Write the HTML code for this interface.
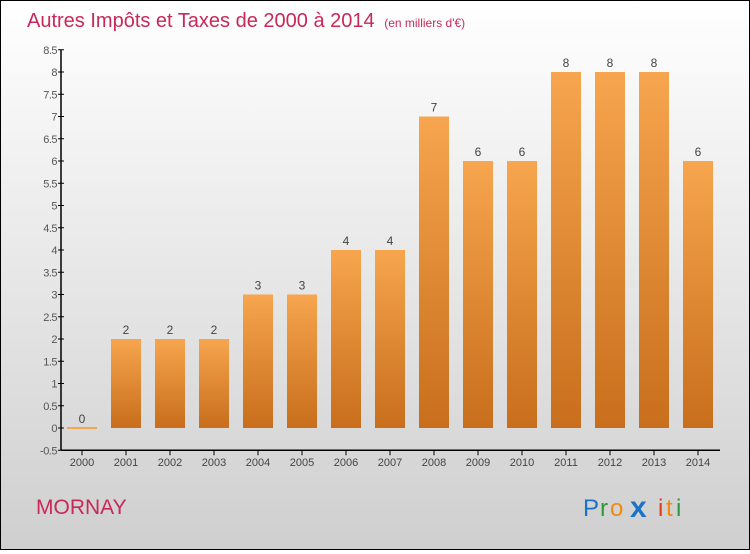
<!DOCTYPE html>
<html><head><meta charset="utf-8"><style>
body{margin:0}
#c{width:748px;height:548px;border:1px solid #000;background:linear-gradient(#ffffff,#cfcfcf);position:relative;font-family:"Liberation Sans",sans-serif}
</style></head><body>
<div id="c">
<svg width="748" height="548" viewBox="1 1 748 548" id="svg">
<defs><linearGradient id="bg" x1="0" y1="0" x2="0" y2="1"><stop offset="0" stop-color="#f7a54e"/><stop offset="1" stop-color="#c86e1c"/></linearGradient></defs>
<text x="27" y="27" font-size="20" fill="#c8285a">Autres Impôts et Taxes de 2000 à 2014 <tspan font-size="12" dx="4">(en milliers d'€)</tspan></text>
<text x="36" y="514" font-size="21" fill="#c8285a">MORNAY</text>
<g font-size="24"><text x="583" y="516" fill="#1a73c8">P</text><text x="600" y="516" fill="#2a9a3a">r</text><text x="610" y="516" fill="#f08a10">o</text><text x="630" y="517" fill="#1a73c8" font-weight="bold" font-size="30">x</text><text x="658" y="516" fill="#e03a1a">i</text><text x="666" y="516" fill="#f08a10">t</text><text x="676" y="516" fill="#2a9a3a">i</text></g>
<g id="plot"></g>
</svg></div>
<script>
const categories=["2000","2001","2002","2003","2004","2005","2006","2007","2008","2009","2010","2011","2012","2013","2014"];
const values=[0,2,2,2,3,3,4,4,7,6,6,8,8,8,6];
const yTicks=[-0.5,0,0.5,1,1.5,2,2.5,3,3.5,4,4.5,5,5.5,6,6.5,7,7.5,8,8.5];
const ns="http://www.w3.org/2000/svg";
const g=document.getElementById('plot');
const y=v=>428-v*44.5;
const x=i=>82+i*44;
function el(t,a){const e=document.createElementNS(ns,t);for(const k in a)e.setAttribute(k,a[k]);g.appendChild(e);return e;}
let ax=el('line',{x1:61,y1:y(8.5),x2:61,y2:y(-0.5),stroke:'#000','stroke-width':1.5});

let bx=el('line',{x1:61,y1:y(-0.5),x2:720,y2:y(-0.5),stroke:'#000','stroke-width':1.5});

yTicks.forEach(t=>{
 el('line',{x1:58,x2:64,y1:y(t),y2:y(t),stroke:'#000'});
 const tx=el('text',{x:57,y:y(t)+4,'text-anchor':'end','font-size':11,fill:'#555','letter-spacing':'-0.5'});
 tx.textContent=t;
 
});
categories.forEach((c,i)=>{
 el('line',{x1:x(i),x2:x(i),y1:y(-0.5),y2:y(-0.5)+5,stroke:'#000'});
 const tx=el('text',{x:x(i),y:466,'text-anchor':'middle','font-size':11,fill:'#444'});
 tx.textContent=c;
 
 const v=values[i];
 let b;
 if(v===0){b=el('rect',{x:x(i)-15,y:y(0)-1,width:30,height:2,fill:'#f7a54e'});}
 else b=el('rect',{x:x(i)-15,y:y(v),width:30,height:y(0)-y(v),fill:'url(#bg)'});
 
 const lt=el('text',{x:x(i),y:y(v)-5,'text-anchor':'middle','font-size':12,fill:'#444'});
 lt.textContent=v;
 
});
</script>
</body></html>
